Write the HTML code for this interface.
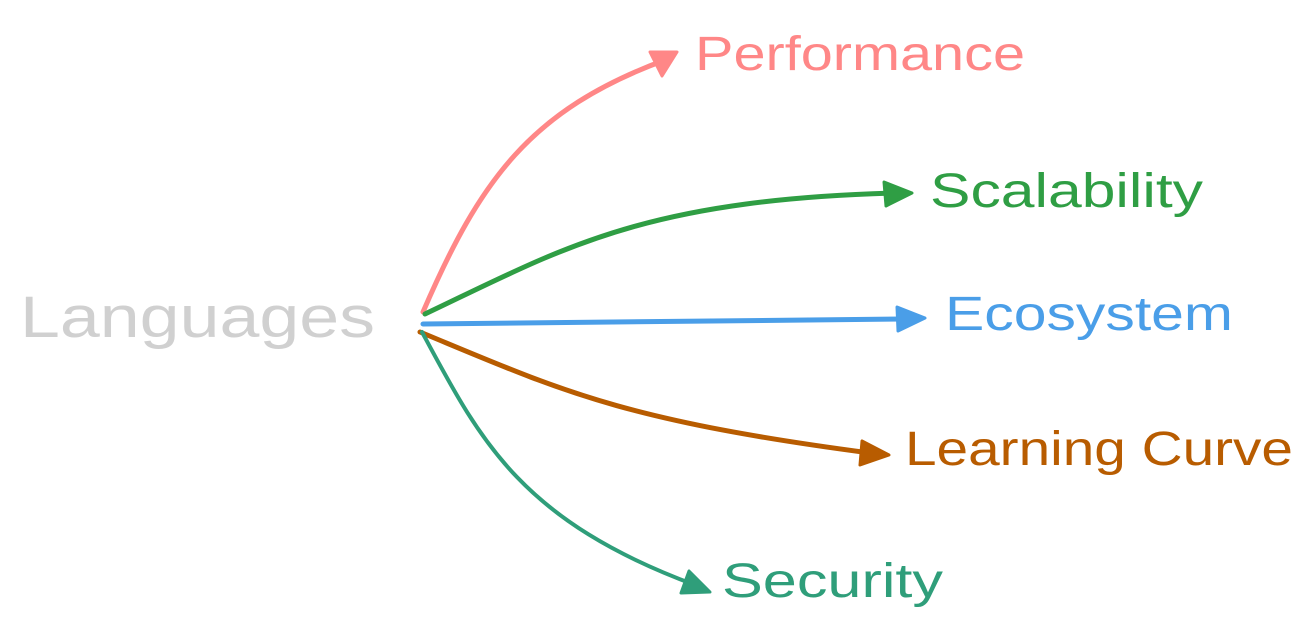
<!DOCTYPE html>
<html><head><meta charset="utf-8"><style>
html,body{margin:0;padding:0;background:#fff;width:1315px;height:638px;overflow:hidden}
svg{display:block}
text{font-family:"Liberation Sans","DejaVu Sans",sans-serif}
</style></head><body>
<svg width="1315" height="638" viewBox="0 0 1315 638" xmlns="http://www.w3.org/2000/svg">
<text x="20" y="337" font-size="58" fill="#d0d0d0" textLength="355" lengthAdjust="spacingAndGlyphs">Languages</text>

<path d="M423 312 C 480 180, 530 110, 665 60" stroke="#ff8787" stroke-width="5" fill="none" stroke-linecap="round"/>
<polygon points="677,52 650,52 662,76" fill="#ff8787" stroke="#ff8787" stroke-width="3" stroke-linejoin="round"/>
<text x="695" y="70" font-size="48" fill="#ff8787" textLength="330" lengthAdjust="spacingAndGlyphs">Performance</text>

<path d="M425 314 C 560 250, 640 200, 895 193" stroke="#2f9e44" stroke-width="5" fill="none" stroke-linecap="round"/>
<polygon points="912,193 884,182 886,206" fill="#2f9e44" stroke="#2f9e44" stroke-width="3" stroke-linejoin="round"/>
<text x="930" y="207" font-size="48" fill="#2f9e44" textLength="273" lengthAdjust="spacingAndGlyphs">Scalability</text>

<path d="M423 324 L 905 319" stroke="#4a9ee8" stroke-width="5" fill="none" stroke-linecap="round"/>
<polygon points="925,318 897,307 898,331" fill="#4a9ee8" stroke="#4a9ee8" stroke-width="3" stroke-linejoin="round"/>
<text x="945" y="330" font-size="48" fill="#4a9ee8" textLength="288" lengthAdjust="spacingAndGlyphs">Ecosystem</text>

<path d="M420 332 C 560 390, 620 420, 870 453" stroke="#b85c00" stroke-width="5" fill="none" stroke-linecap="round"/>
<polygon points="889,455 862,441 860,465" fill="#b85c00" stroke="#b85c00" stroke-width="3" stroke-linejoin="round"/>
<text x="905" y="465" font-size="48" fill="#b85c00" textLength="388" lengthAdjust="spacingAndGlyphs">Learning Curve</text>

<path d="M422 332 C 480 440, 520 520, 695 585" stroke="#2f9e7a" stroke-width="4" fill="none" stroke-linecap="round"/>
<polygon points="710,592 689,571 681,593" fill="#2f9e7a" stroke="#2f9e7a" stroke-width="3" stroke-linejoin="round"/>
<text x="722" y="597" font-size="48" fill="#2f9e7a" textLength="221" lengthAdjust="spacingAndGlyphs">Security</text>
</svg>
</body></html>
